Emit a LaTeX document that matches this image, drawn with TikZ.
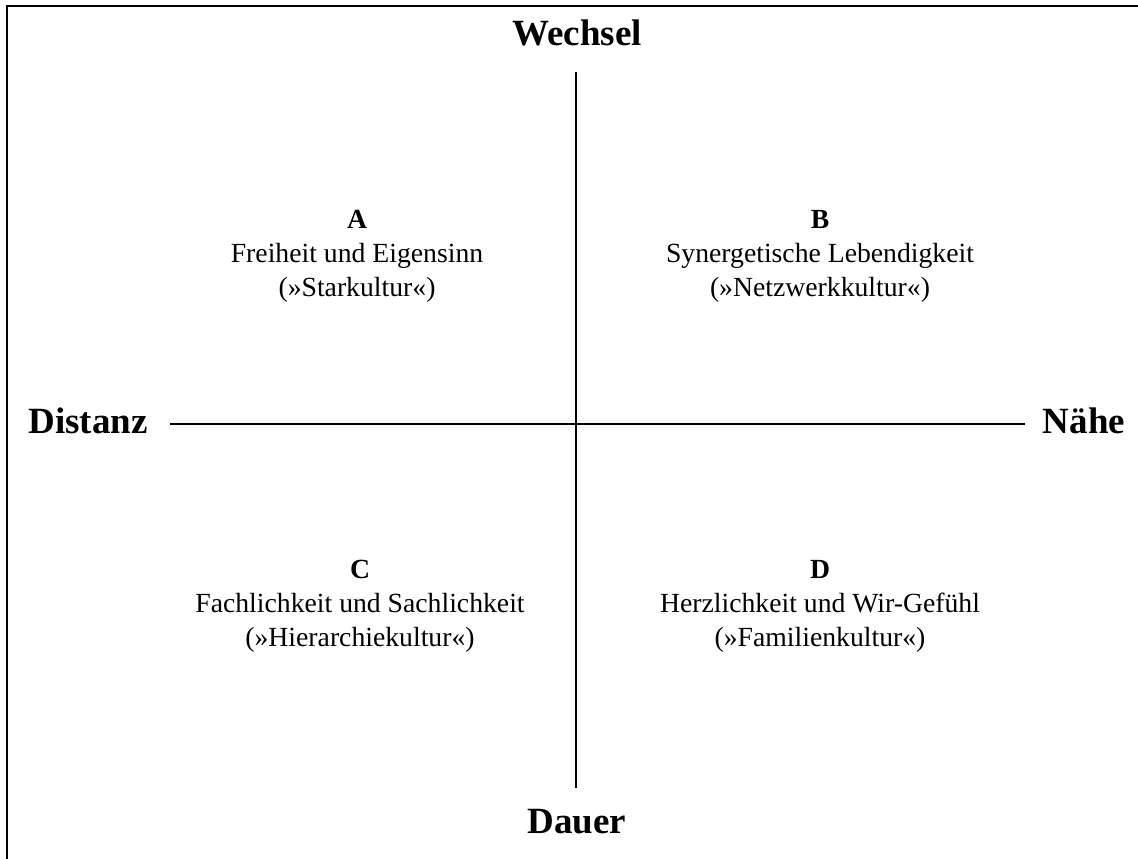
\documentclass[tikz,border=0pt]{standalone}
\usepackage{fontspec}
\setmainfont{Liberation Serif}
\begin{document}
\begin{tikzpicture}[x=1pt,y=-1pt,
  axislabel/.style={font=\fontsize{37}{40}\selectfont\bfseries, inner sep=0pt, anchor=base},
  quadrant/.style={font=\fontsize{27.7}{34}\selectfont, align=center, inner sep=0pt},
  axis/.style={line width=1.5pt},
  frame/.style={line width=2.2pt}]
\useasboundingbox (0,0) rectangle (1138,859);
% outer frame (open to the right and bottom)
\draw[frame] (7,870) -- (7,6) -- (1150,6);
% axis labels
\node[axislabel] (top) at (577,46) {Wechsel};
\node[axislabel] (bottom) at (577,833) {Dauer};
\node[axislabel] (left) at (88,433) {Distanz};
\node[axislabel] (right) at (1084,433) {Nähe};
% axes
\coordinate (vt) at (576,72);
\coordinate (vb) at (576,788);
\coordinate (hl) at (170,424);
\coordinate (hr) at (1025,424);
\draw[axis] (vt) -- (vb);
\draw[axis] (hl) -- (hr);
% quadrants
\node[quadrant] (qa) at (357,256) {\textbf{A}\\Freiheit und Eigensinn\\(»Starkultur«)};
\node[quadrant] (qb) at (820,256) {\textbf{B}\\Synergetische Lebendigkeit\\(»Netzwerkkultur«)};
\node[quadrant] (qc) at (360,606) {\textbf{C}\\Fachlichkeit und Sachlichkeit\\(»Hierarchiekultur«)};
\node[quadrant] (qd) at (820,606) {\textbf{D}\\Herzlichkeit und Wir-Gefühl\\(»Familienkultur«)};
\end{tikzpicture}
\end{document}
